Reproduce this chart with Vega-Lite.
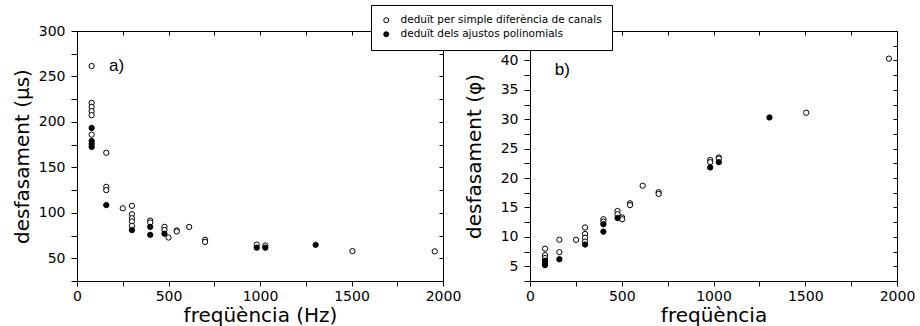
{
  "$schema": "https://vega.github.io/schema/vega-lite/v6.json",
  "padding": {"left": 11, "top": 4, "right": 2, "bottom": 0},
  "background": "white",
  "spacing": 1,
  "datasets": {
    "a": [
      {"f": 80, "d": 261.5, "s": "deduït per simple diferència de canals"},
      {"f": 80, "d": 221, "s": "deduït per simple diferència de canals"},
      {"f": 80, "d": 216.5, "s": "deduït per simple diferència de canals"},
      {"f": 80, "d": 211.8, "s": "deduït per simple diferència de canals"},
      {"f": 80, "d": 207.4, "s": "deduït per simple diferència de canals"},
      {"f": 80, "d": 186, "s": "deduït per simple diferència de canals"},
      {"f": 160, "d": 166, "s": "deduït per simple diferència de canals"},
      {"f": 160, "d": 128.6, "s": "deduït per simple diferència de canals"},
      {"f": 160, "d": 125, "s": "deduït per simple diferència de canals"},
      {"f": 250, "d": 105, "s": "deduït per simple diferència de canals"},
      {"f": 300, "d": 107.7, "s": "deduït per simple diferència de canals"},
      {"f": 300, "d": 98.5, "s": "deduït per simple diferència de canals"},
      {"f": 300, "d": 94, "s": "deduït per simple diferència de canals"},
      {"f": 300, "d": 90.5, "s": "deduït per simple diferència de canals"},
      {"f": 300, "d": 85.7, "s": "deduït per simple diferència de canals"},
      {"f": 400, "d": 91.5, "s": "deduït per simple diferència de canals"},
      {"f": 400, "d": 89.4, "s": "deduït per simple diferència de canals"},
      {"f": 478, "d": 84.6, "s": "deduït per simple diferència de canals"},
      {"f": 478, "d": 81.2, "s": "deduït per simple diferència de canals"},
      {"f": 500, "d": 72.8, "s": "deduït per simple diferència de canals"},
      {"f": 545, "d": 80.6, "s": "deduït per simple diferència de canals"},
      {"f": 545, "d": 79.5, "s": "deduït per simple diferència de canals"},
      {"f": 613, "d": 84.4, "s": "deduït per simple diferència de canals"},
      {"f": 700, "d": 70.3, "s": "deduït per simple diferència de canals"},
      {"f": 700, "d": 68, "s": "deduït per simple diferència de canals"},
      {"f": 982, "d": 65, "s": "deduït per simple diferència de canals"},
      {"f": 1029, "d": 64, "s": "deduït per simple diferència de canals"},
      {"f": 1505, "d": 57.9, "s": "deduït per simple diferència de canals"},
      {"f": 1955, "d": 57.6, "s": "deduït per simple diferència de canals"},
      {"f": 80, "d": 193.4, "s": "deduït dels ajustos polinomials"},
      {"f": 80, "d": 179, "s": "deduït dels ajustos polinomials"},
      {"f": 80, "d": 175.8, "s": "deduït dels ajustos polinomials"},
      {"f": 80, "d": 172.5, "s": "deduït dels ajustos polinomials"},
      {"f": 160, "d": 108.5, "s": "deduït dels ajustos polinomials"},
      {"f": 300, "d": 81, "s": "deduït dels ajustos polinomials"},
      {"f": 400, "d": 84.6, "s": "deduït dels ajustos polinomials"},
      {"f": 400, "d": 75.8, "s": "deduït dels ajustos polinomials"},
      {"f": 478, "d": 77, "s": "deduït dels ajustos polinomials"},
      {"f": 982, "d": 61.7, "s": "deduït dels ajustos polinomials"},
      {"f": 1029, "d": 61.7, "s": "deduït dels ajustos polinomials"},
      {"f": 1304, "d": 64.8, "s": "deduït dels ajustos polinomials"}
    ],
    "b": [
      {"f": 82, "d": 8.0, "s": "deduït per simple diferència de canals"},
      {"f": 82, "d": 6.9, "s": "deduït per simple diferència de canals"},
      {"f": 82, "d": 6.4, "s": "deduït per simple diferència de canals"},
      {"f": 160, "d": 9.5, "s": "deduït per simple diferència de canals"},
      {"f": 160, "d": 7.4, "s": "deduït per simple diferència de canals"},
      {"f": 251, "d": 9.5, "s": "deduït per simple diferència de canals"},
      {"f": 300, "d": 11.6, "s": "deduït per simple diferència de canals"},
      {"f": 300, "d": 10.5, "s": "deduït per simple diferència de canals"},
      {"f": 300, "d": 9.85, "s": "deduït per simple diferència de canals"},
      {"f": 300, "d": 9.2, "s": "deduït per simple diferència de canals"},
      {"f": 400, "d": 13.0, "s": "deduït per simple diferència de canals"},
      {"f": 400, "d": 12.6, "s": "deduït per simple diferència de canals"},
      {"f": 477, "d": 14.4, "s": "deduït per simple diferència de canals"},
      {"f": 477, "d": 13.85, "s": "deduït per simple diferència de canals"},
      {"f": 502, "d": 13.3, "s": "deduït per simple diferència de canals"},
      {"f": 502, "d": 13.0, "s": "deduït per simple diferència de canals"},
      {"f": 545, "d": 15.7, "s": "deduït per simple diferència de canals"},
      {"f": 545, "d": 15.4, "s": "deduït per simple diferència de canals"},
      {"f": 614, "d": 18.7, "s": "deduït per simple diferència de canals"},
      {"f": 701, "d": 17.6, "s": "deduït per simple diferència de canals"},
      {"f": 701, "d": 17.3, "s": "deduït per simple diferència de canals"},
      {"f": 982, "d": 23.06, "s": "deduït per simple diferència de canals"},
      {"f": 982, "d": 22.7, "s": "deduït per simple diferència de canals"},
      {"f": 1029, "d": 23.5, "s": "deduït per simple diferència de canals"},
      {"f": 1029, "d": 23.3, "s": "deduït per simple diferència de canals"},
      {"f": 1505, "d": 31.1, "s": "deduït per simple diferència de canals"},
      {"f": 1956, "d": 40.3, "s": "deduït per simple diferència de canals"},
      {"f": 82, "d": 5.96, "s": "deduït dels ajustos polinomials"},
      {"f": 82, "d": 5.56, "s": "deduït dels ajustos polinomials"},
      {"f": 82, "d": 5.2, "s": "deduït dels ajustos polinomials"},
      {"f": 160, "d": 6.2, "s": "deduït dels ajustos polinomials"},
      {"f": 300, "d": 8.7, "s": "deduït dels ajustos polinomials"},
      {"f": 400, "d": 12.15, "s": "deduït dels ajustos polinomials"},
      {"f": 400, "d": 10.9, "s": "deduït dels ajustos polinomials"},
      {"f": 477, "d": 13.2, "s": "deduït dels ajustos polinomials"},
      {"f": 982, "d": 21.8, "s": "deduït dels ajustos polinomials"},
      {"f": 1029, "d": 22.7, "s": "deduït dels ajustos polinomials"},
      {"f": 1305, "d": 30.3, "s": "deduït dels ajustos polinomials"}
    ]
  },
  "config": {
    "view": {"stroke": "black", "strokeWidth": 1},
    "axis": {
      "labelFont": "DejaVu Sans", "labelFontSize": 14, "labelColor": "black",
      "titleFont": "DejaVu Sans", "titleFontSize": 20, "titleFontWeight": "normal", "titleColor": "black",
      "domainColor": "black", "grid": false, "labelFlush": false, "labelOverlap": false
    },
    "legend": {
      "labelFont": "DejaVu Sans", "labelFontSize": 10.5, "labelColor": "black"
    }
  },
  "hconcat": [
    {
      "width": 366, "height": 250,
      "layer": [
        {
          "data": {"name": "a"},
          "mark": {"type": "point", "shape": "circle", "filled": true, "stroke": "black", "strokeWidth": 1, "size": 28, "opacity": 1},
          "encoding": {
            "x": {"field": "f", "type": "quantitative", "scale": {"domain": [0, 2000], "nice": false, "zero": false},
              "axis": {"orient": "bottom", "values": [0, 250, 500, 750, 1000, 1250, 1500, 1750, 2000], "format": "d",
                "labelExpr": "datum.value % 500 === 0 ? datum.label : ''",
                "ticks": true, "tickSize": 5, "tickWidth": 1, "tickColor": "#000000",
                "title": "freqüència (Hz)", "labelPadding": 3, "titlePadding": 2}},
            "y": {"field": "d", "type": "quantitative", "scale": {"domain": [25, 300], "nice": false, "zero": false},
              "axis": {"orient": "left", "values": [25, 50, 75, 100, 125, 150, 175, 200, 225, 250, 275, 300], "format": "d",
                "labelExpr": "datum.value % 50 === 0 ? datum.label : ''",
                "ticks": true, "tickSize": 6, "tickWidth": 1, "tickColor": "#000000",
                "title": "desfasament (µs)", "labelPadding": 6, "titlePadding": 6}},
            "fill": {"field": "s", "type": "nominal",
              "scale": {"domain": ["deduït per simple diferència de canals", "deduït dels ajustos polinomials"], "range": ["white", "black"]},
              "legend": {"orient": "none", "legendX": 294, "legendY": -26, "title": null, "fillColor": "white", "strokeColor": "black",
                "padding": 10, "symbolType": "circle", "symbolSize": 25, "symbolStrokeColor": "black", "symbolStrokeWidth": 1,
                "rowPadding": 3, "labelOffset": 9, "labelLimit": 400}}
          }
        },
        {
          "data": {"values": [{"f": 175, "d": 262, "t": "a)"}]},
          "mark": {"type": "text", "align": "left", "baseline": "middle", "font": "Liberation Sans", "fontSize": 17, "color": "black"},
          "encoding": {
            "x": {"field": "f", "type": "quantitative", "scale": {"domain": [0, 2000], "nice": false, "zero": false},
              "axis": {"orient": "top", "values": [0, 250, 500, 750, 1000, 1250, 1500, 1750, 2000], "labels": false, "title": null,
                "domain": false, "offset": -4, "ticks": true, "tickSize": 4, "tickWidth": 1, "tickColor": "#000000"}},
            "y": {"field": "d", "type": "quantitative", "scale": {"domain": [25, 300], "nice": false, "zero": false},
              "axis": {"orient": "right", "values": [25, 50, 75, 100, 125, 150, 175, 200, 225, 250, 275, 300], "labels": false, "title": null,
                "domain": false, "offset": -4, "ticks": true, "tickSize": 4, "tickWidth": 1, "tickColor": "#000000"}},
            "text": {"field": "t"}
          }
        }
      ],
      "resolve": {"axis": {"x": "independent", "y": "independent"}}
    },
    {
      "width": 367, "height": 250,
      "layer": [
        {
          "data": {"name": "b"},
          "mark": {"type": "point", "shape": "circle", "filled": true, "stroke": "black", "strokeWidth": 1, "size": 28, "opacity": 1},
          "encoding": {
            "x": {"field": "f", "type": "quantitative", "scale": {"domain": [0, 2000], "nice": false, "zero": false},
              "axis": {"orient": "bottom", "values": [0, 250, 500, 750, 1000, 1250, 1500, 1750, 2000], "format": "d",
                "labelExpr": "datum.value % 500 === 0 ? datum.label : ''",
                "ticks": true, "tickSize": 5, "tickWidth": 1, "tickColor": "#000000",
                "title": "freqüència", "labelPadding": 3, "titlePadding": 2}},
            "y": {"field": "d", "type": "quantitative", "scale": {"domain": [2.5, 45], "nice": false, "zero": false},
              "axis": {"orient": "left", "values": [2.5, 5, 7.5, 10, 12.5, 15, 17.5, 20, 22.5, 25, 27.5, 30, 32.5, 35, 37.5, 40, 42.5, 45], "format": "d",
                "labelExpr": "datum.value % 5 === 0 && datum.value <= 40 ? datum.label : ''",
                "ticks": true, "tickSize": 6, "tickWidth": 1, "tickColor": "#000000",
                "title": "desfasament (φ)", "labelPadding": 6, "titlePadding": 16}},
            "fill": {"field": "s", "type": "nominal",
              "scale": {"domain": ["deduït per simple diferència de canals", "deduït dels ajustos polinomials"], "range": ["white", "black"]}}
          }
        },
        {
          "data": {"values": [{"f": 135, "d": 38.4, "t": "b)"}]},
          "mark": {"type": "text", "align": "left", "baseline": "middle", "font": "Liberation Sans", "fontSize": 17, "color": "black"},
          "encoding": {
            "x": {"field": "f", "type": "quantitative", "scale": {"domain": [0, 2000], "nice": false, "zero": false},
              "axis": {"orient": "top", "values": [0, 250, 500, 750, 1000, 1250, 1500, 1750, 2000], "labels": false, "title": null,
                "domain": false, "offset": -4, "ticks": true, "tickSize": 4, "tickWidth": 1, "tickColor": "#000000"}},
            "y": {"field": "d", "type": "quantitative", "scale": {"domain": [2.5, 45], "nice": false, "zero": false},
              "axis": {"orient": "right", "values": [2.5, 5, 7.5, 10, 12.5, 15, 17.5, 20, 22.5, 25, 27.5, 30, 32.5, 35, 37.5, 40, 42.5, 45], "labels": false, "title": null,
                "domain": false, "offset": -4, "ticks": true, "tickSize": 4, "tickWidth": 1, "tickColor": "#000000"}},
            "text": {"field": "t"}
          }
        }
      ],
      "resolve": {"axis": {"x": "independent", "y": "independent"}}
    }
  ]
}
